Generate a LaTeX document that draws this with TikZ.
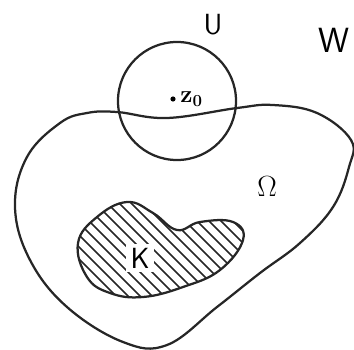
\documentclass[tikz,border=0pt]{standalone}
\usepackage{tikz}
\usetikzlibrary{positioning}

\begin{document}
\begin{tikzpicture}[
  x=0.025cm, y=-0.025cm,
  font=\huge\sffamily,
  curve/.style={draw=black!85, line width=1.6pt, line join=round},
  hatch/.style={draw=black!85, line width=1.2pt},
  lbl/.style={inner sep=1pt},
]

% Frame
\useasboundingbox (0,0) rectangle (354,349);

% Region Omega
\draw[curve] plot[smooth cycle, tension=0.65] coordinates {
  (117,112) (167,118) (237,108) (273,105) (317,113) (351,140) (349,167)
  (333,207) (300,243) (260,273) (217,307) (167,345) (123,342) (67,307)
  (30,260) (15,207) (27,157) (60,123) (87,113)};

% Compact set K with hatching
\def\kpath{plot[smooth cycle, tension=0.7] coordinates {
  (127,202) (97,217) (78,243) (87,277) (110,293) (143,297) (183,287)
  (220,270) (243,240) (233,222) (200,222) (177,230) (153,213)}}
\begin{scope}
  \clip \kpath;
  \foreach \s in {0,12,...,300}
    \draw[hatch] (\s-60,180) -- (\s+80,320);
\end{scope}
\draw[curve] \kpath;

% Disc U
\node[curve, circle, minimum size=2.95cm, inner sep=0pt] (disc) at (177,101) {};

% Labels
\node[lbl] (u) at (213,25) {U};
\node[lbl] (w) at (334,40) {\Huge W};
\node[fill=black, circle, inner sep=1.3pt] (dot) at (173,99) {};
\node[lbl, font=\LARGE\bfseries\sffamily, right=2pt of dot] (z0) {$\mathbf{z_0}$};
\node[lbl] (omega) at (267,187) {$\Omega$};
\node[lbl, fill=white, inner sep=3pt] (k) at (140,258) {K};

\end{tikzpicture}
\end{document}
